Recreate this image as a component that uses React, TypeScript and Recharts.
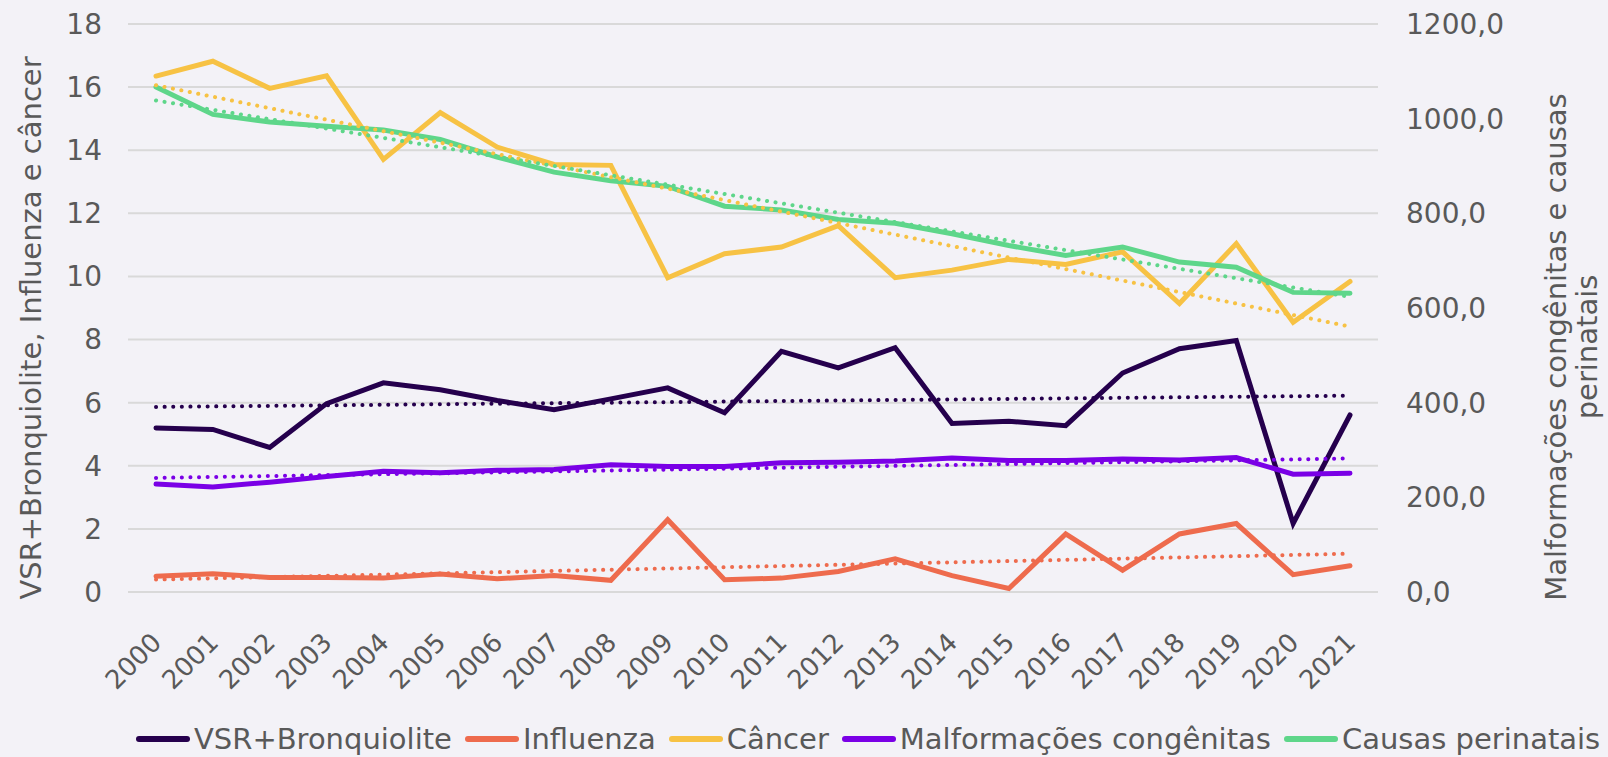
import React from 'react';
import { LineChart, Line, XAxis, YAxis, CartesianGrid, Legend } from 'recharts';

// values
const years = ['2000', '2001', '2002', '2003', '2004', '2005', '2006', '2007', '2008', '2009', '2010',
  '2011', '2012', '2013', '2014', '2015', '2016', '2017', '2018', '2019', '2020', '2021'];
const vsr = [5.20, 5.15, 4.58, 5.97, 6.63, 6.41, 6.07, 5.78, 6.12, 6.47, 5.68, 7.63, 7.10, 7.74, 5.34, 5.41, 5.27, 6.94, 7.71, 7.97, 2.17, 5.61];
const influenza = [0.50, 0.58, 0.46, 0.46, 0.44, 0.57, 0.42, 0.52, 0.37, 2.29, 0.39, 0.44, 0.65, 1.05, 0.52, 0.11, 1.84, 0.69, 1.84, 2.17, 0.55, 0.83];
const cancer = [16.35, 16.82, 15.96, 16.36, 13.71, 15.19, 14.10, 13.55, 13.52, 9.96, 10.72, 10.93, 11.61, 9.96, 10.20, 10.54, 10.38, 10.78, 9.14, 11.04, 8.55, 9.84];
const malformacoes = [228, 222, 232, 244, 255, 252, 257, 259, 269, 265, 265, 273, 274, 277, 283, 278, 278, 281, 279, 284, 249, 251];
const perinatais = [1067, 1009, 993, 984, 976, 956, 919, 887, 869, 857, 815, 807, 787, 779, 757, 732, 711, 729, 697, 686, 633, 631];

const leftTicks = [0, 2, 4, 6, 8, 10, 12, 14, 16, 18];
const rightTicks = [0, 200, 400, 600, 800, 1000, 1200];

const series = [
  { key: 'vsr', name: 'VSR+Bronquiolite', color: '#25004D', axis: 'left' },
  { key: 'influenza', name: 'Influenza', color: '#EE6B4D', axis: 'left' },
  { key: 'cancer', name: 'Câncer', color: '#F7C244', axis: 'left' },
  { key: 'malformacoes', name: 'Malformações congênitas', color: '#7A00E6', axis: 'right' },
  { key: 'perinatais', name: 'Causas perinatais', color: '#5ED68A', axis: 'right' },
];

// linear trendline (least squares), like the spreadsheet's
const linearTrend = (values: number[]) => {
  const n = values.length;
  const mx = (n - 1) / 2;
  const my = values.reduce((a, b) => a + b, 0) / n;
  let num = 0;
  let den = 0;
  values.forEach((v, i) => {
    num += (i - mx) * (v - my);
    den += (i - mx) * (i - mx);
  });
  const slope = num / den;
  return values.map((_, i) => my + slope * (i - mx));
};

const raw: Record<string, number[]> = { vsr, influenza, cancer, malformacoes, perinatais };
const trends: Record<string, number[]> = {};
Object.keys(raw).forEach(k => { trends[k] = linearTrend(raw[k]); });

const data = years.map((year, i) => {
  const row: any = { year };
  Object.keys(raw).forEach(k => {
    row[k] = raw[k][i];
    row[k + 'Trend'] = trends[k][i];
  });
  return row;
});

const FONT = '"DejaVu Sans", Verdana, sans-serif';
const GREY = '#595959';

const YearTick = (props: any) => {
  const { x, y, payload } = props;
  return (
    <g transform={`translate(${x + 7},${y + 44}) rotate(-45)`}>
      <text x={0} y={0} textAnchor="end" fill={GREY} fontSize={26} fontFamily={FONT}>
        {payload.value}
      </text>
    </g>
  );
};

const LeftTitle = (props: any) => {
  const vb = props.viewBox;
  const cx = 31;
  const cy = vb.y + vb.height / 2 + 20;
  return (
    <text x={cx} y={cy} transform={`rotate(-90 ${cx} ${cy})`} textAnchor="middle" dominantBaseline="central"
      fill={GREY} fontSize={29} fontFamily={FONT}>
      VSR+Bronquiolite, Influenza e câncer
    </text>
  );
};

const RightTitle = (props: any) => {
  const vb = props.viewBox;
  const cy = vb.y + vb.height / 2 + 39;
  const x1 = vb.x + 178;
  const x2 = vb.x + 209;
  return (
    <g>
      <text x={x1} y={cy} transform={`rotate(-90 ${x1} ${cy})`} textAnchor="middle" dominantBaseline="central"
        fill={GREY} fontSize={29} fontFamily={FONT}>
        Malformações congênitas e causas
      </text>
      <text x={x2} y={cy} transform={`rotate(-90 ${x2} ${cy})`} textAnchor="middle" dominantBaseline="central"
        fill={GREY} fontSize={29} fontFamily={FONT}>
        perinatais
      </text>
    </g>
  );
};

const LegendRow = () => (
  <div style={{ display: 'flex', alignItems: 'center', paddingLeft: 136, height: 36, fontFamily: FONT, fontSize: 29, color: GREY, whiteSpace: 'nowrap' }}>
    {series.map(s => (
      <span key={s.key} style={{ display: 'flex', alignItems: 'center', marginRight: 13 }}>
        <svg width={54} height={10} style={{ marginRight: 4 }}>
          <line x1={3} y1={5} x2={51} y2={5} stroke={s.color} strokeWidth={6} strokeLinecap="round" />
        </svg>
        <span>{s.name}</span>
      </span>
    ))}
  </div>
);

export default function App() {
  return (
    <div style={{ position: 'absolute', left: 0, top: 0, width: 1608, height: 757, background: '#F3F2F7' }}>
      <LineChart width={1608} height={757} data={data} margin={{ top: 24, right: 0, bottom: 0, left: 0 }}>
        <CartesianGrid vertical={false} stroke="#D9D9D9" strokeWidth={2} yAxisId="left" />
        <XAxis dataKey="year" tick={<YearTick />} tickLine={false} axisLine={false} interval={0}
          height={129} padding={{ left: 28, right: 28 }} />
        <YAxis yAxisId="left" domain={[0, 18]} ticks={leftTicks} width={128} tickLine={false} axisLine={false}
          tickMargin={20} tick={{ fill: GREY, fontSize: 28, fontFamily: FONT }} label={<LeftTitle />} />
        <YAxis yAxisId="right" orientation="right" domain={[0, 1200]} ticks={rightTicks} width={230}
          tickLine={false} axisLine={false} tickMargin={22}
          tickFormatter={(v: number) => v.toFixed(1).replace('.', ',')}
          tick={{ fill: GREY, fontSize: 28, fontFamily: FONT }} label={<RightTitle />} />
        <Legend verticalAlign="bottom" height={36} content={<LegendRow />} wrapperStyle={{ left: 0, width: 1608 }} />
        {series.map(s => (
          <Line key={s.key} yAxisId={s.axis} dataKey={s.key} name={s.name} stroke={s.color} strokeWidth={5}
            strokeLinecap="round" dot={false} activeDot={false} isAnimationActive={false} />
        ))}
        {series.map(s => (
          <Line key={s.key + 'Trend'} yAxisId={s.axis} dataKey={s.key + 'Trend'} legendType="none"
            stroke={s.color} strokeWidth={4} strokeDasharray="0.1 8.5" strokeLinecap="round"
            dot={false} activeDot={false} isAnimationActive={false} />
        ))}
      </LineChart>
    </div>
  );
}
